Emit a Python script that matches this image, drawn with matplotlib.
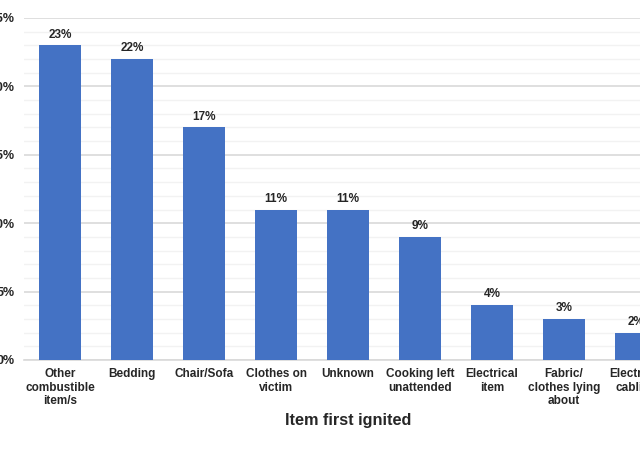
import numpy as np
import matplotlib.pyplot as plt
from matplotlib.ticker import MultipleLocator, PercentFormatter

# values (share of fires, %)
items = ["Other\ncombustible\nitem/s", "Bedding", "Chair/Sofa", "Clothes on\nvictim",
         "Unknown", "Cooking left\nunattended", "Electrical\nitem",
         "Fabric/\nclothes lying\nabout", "Electrical\ncabling"]
share = [23, 22, 17, 11, 11, 9, 4, 3, 2]

plt.rcParams['font.family'] = ['Liberation Sans', 'DejaVu Sans']

fig = plt.figure(figsize=(6.4, 4.5), dpi=100)
# plot area is wider than the canvas: the picture is a crop of a bigger chart
ax = fig.add_axes([24 / 640, 90 / 450, 648 / 640, 342 / 450])

x = np.arange(len(items))
bars = ax.bar(x, share, width=0.57, color="#4472C4", zorder=3)

for xi, v in zip(x, share):
    ax.text(xi, v + 0.35, f"{v}%", ha="center", va="bottom",
            fontsize=8.5, fontweight="bold", color="#262626")

ax.set_xlim(-0.5, len(items) - 0.5)
ax.set_ylim(0, 25)
ax.yaxis.set_major_locator(MultipleLocator(5))
ax.yaxis.set_minor_locator(MultipleLocator(1))
ax.yaxis.set_major_formatter(PercentFormatter(decimals=0))
ax.grid(axis="y", which="major", color="#D9D9D9", linewidth=1.2, zorder=0)
ax.grid(axis="y", which="minor", color="#F2F2F2", linewidth=1.0, zorder=0)

ax.set_xticks(x)
ax.set_xticklabels(items, fontsize=8.5, fontweight="bold", color="#262626",
                   linespacing=1.15)
ax.tick_params(axis="x", length=0, pad=6)
ax.tick_params(axis="y", which="both", length=0, pad=7,
               labelsize=9, labelcolor="#262626")
for lab in ax.get_yticklabels():
    lab.set_fontweight("bold")

for side in ["top", "right", "left"]:
    ax.spines[side].set_visible(False)
ax.spines["bottom"].set_color("#D9D9D9")
ax.spines["bottom"].set_linewidth(1.2)

ax.set_xlabel("Item first ignited", fontsize=11.7, fontweight="bold",
              color="#262626", labelpad=4)

fig.savefig("out.png", dpi=100)
